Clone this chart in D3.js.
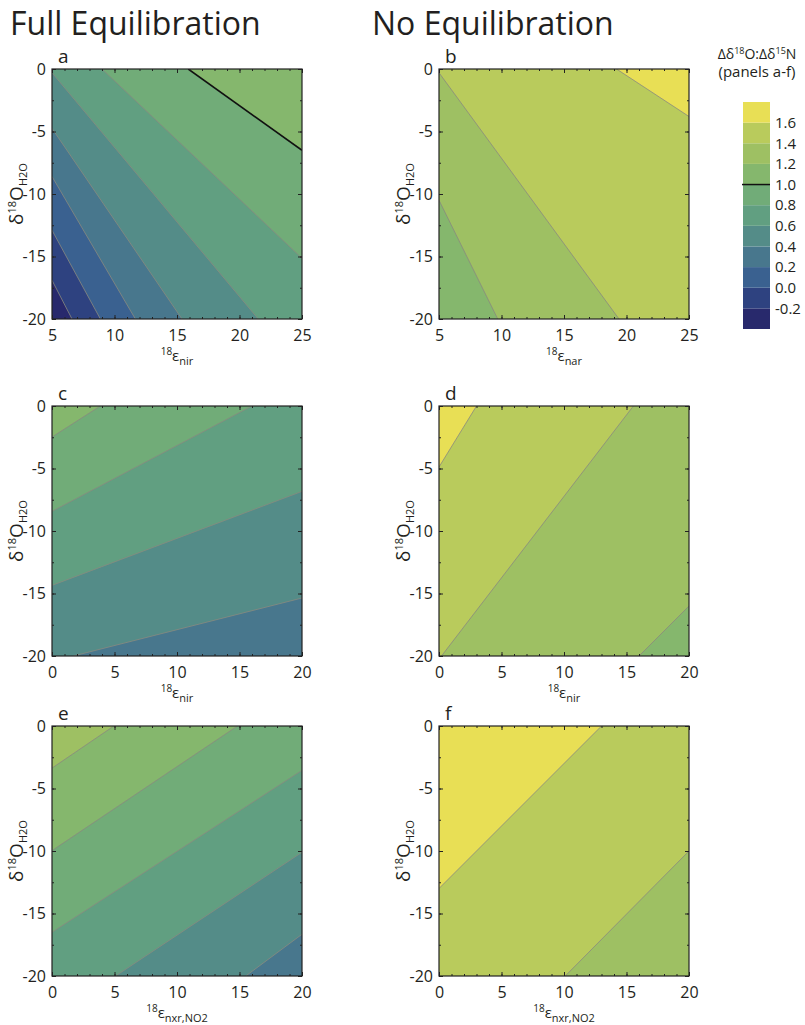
<!DOCTYPE html>
<html><head><meta charset="utf-8">
<script src="https://cdn.jsdelivr.net/npm/d3@7"></script>
<style>
body{margin:0;background:#fff}
text{font-family:"Open Sans",sans-serif;fill:#231f20}
</style>
</head><body>
<svg id="chart" width="805" height="1025"></svg>
<script>
// ---------------- data ----------------
const levels = [-0.2, 0.0, 0.2, 0.4, 0.6, 0.8, 1.0, 1.2, 1.4, 1.6];
const bandColors = ["#28296c", "#2e4280", "#3a6190", "#48778d", "#548c88", "#619f81", "#71ac78", "#85b76d", "#9ec063", "#b9cb5c", "#e8df55"];
const colorbarTicks = [-0.2, 0.0, 0.2, 0.4, 0.6, 0.8, 1.0, 1.2, 1.4, 1.6];
const columnTitles = ["Full Equilibration", "No Equilibration"];
const panelLetters = ["a", "b", "c", "d", "e", "f"];
const xDomains = [[5, 25], [5, 25], [0, 20], [0, 20], [0, 20], [0, 20]];
const yDomain = [-20, 0];
const xTickValues = [[5, 10, 15, 20, 25], [5, 10, 15, 20, 25], [0, 5, 10, 15, 20], [0, 5, 10, 15, 20], [0, 5, 10, 15, 20], [0, 5, 10, 15, 20]];
const yTickValues = [0, -5, -10, -15, -20];
const xLabelSubs = ["nir", "nar", "nir", "nir", "nxr,NO2", "nxr,NO2"];
// contour lines: [level, x1, y1, x2, y2] (data units)
const contoursA = [[1.0, 15.9, 0, 25, -6.5], [0.8, 9.0, 0, 25, -15.15], [0.6, 5, -0.3, 21.5, -20], [0.4, 5, -4.75, 15.4, -20], [0.2, 5, -8.6, 11.67, -20], [0.0, 5, -12.9, 8.87, -20], [-0.2, 5, -16.9, 6.6, -20]];
const contoursB = [[1.6, 19.2, 0, 25, -3.8], [1.4, 5, -0.3, 19.4, -20], [1.2, 5, -10.5, 9.7, -20]];
const contoursC = [[1.0, 0, -2.48, 3.87, 0], [0.8, 0, -8.43, 16, 0], [0.6, 0, -14.35, 20, -6.83], [0.4, 1.7, -20, 20, -15.36]];
const contoursD = [[1.6, 0, -4.88, 3.0, 0], [1.4, 0.2, -20, 15.55, 0], [1.2, 16, -20, 20, -16]];
const contoursE = [[1.2, 0, -3.37, 4.95, 0], [1.0, 0, -9.97, 14.84, 0], [0.8, 0, -16.5, 20, -3.55], [0.6, 5.08, -20, 20, -10.1], [0.4, 15.5, -20, 20, -16.66]];
const contoursF = [[1.6, 0, -13.0, 13.0, 0], [1.4, 10.1, -20, 20, -10.0]];
const panelContours = [contoursA, contoursB, contoursC, contoursD, contoursE, contoursF];
// corner of each panel where the ratio is highest
const peakCorners = [[25, 0], [25, 0], [0, 0], [0, 0], [0, 0], [0, 0]];
const blackContour = {panel: 0, level: 1.0};

// ---------------- layout ----------------
const svg = d3.select("#chart");
const W = 250, H = 250;
const origins = [[52, 69], [439, 69], [52, 406], [439, 406], [52, 726], [439, 726]];
const color = d3.scaleThreshold().domain(levels).range(bandColors);

// column titles
svg.selectAll("text.title").data(columnTitles).join("text")
  .attr("class", "title")
  .attr("x", (d, i) => i === 0 ? 10 : 372)
  .attr("y", 35)
  .attr("font-size", 32)
  .text(d => d);

panelContours.forEach((lines, p) => {
  const [ox, oy] = origins[p];
  const x = d3.scaleLinear().domain(xDomains[p]).range([0, W]);
  const y = d3.scaleLinear().domain(yDomain).range([H, 0]);
  const g = svg.append("g").attr("transform", `translate(${ox},${oy})`);
  const clipId = "clip" + p;
  g.append("clipPath").attr("id", clipId).append("rect").attr("width", W).attr("height", H);
  const fills = g.append("g").attr("clip-path", `url(#${clipId})`);

  const sorted = lines.slice().sort((a, b) => a[0] - b[0]);
  fills.append("rect").attr("width", W).attr("height", H)
    .attr("fill", color(sorted[0][0] - 0.1));

  const peak = [x(peakCorners[p][0]), y(peakCorners[p][1])];
  const halfPlane = l => {
    const p1 = [x(l[1]), y(l[2])], p2 = [x(l[3]), y(l[4])];
    let dx = p2[0] - p1[0], dy = p2[1] - p1[1];
    const len = Math.hypot(dx, dy); dx /= len; dy /= len;
    let nx = -dy, ny = dx;
    if ((peak[0] - p1[0]) * nx + (peak[1] - p1[1]) * ny < 0) { nx = -nx; ny = -ny; }
    const L = 2000;
    const a = [p1[0] - dx * L, p1[1] - dy * L], b = [p2[0] + dx * L, p2[1] + dy * L];
    return [a, b, [b[0] + nx * L, b[1] + ny * L], [a[0] + nx * L, a[1] + ny * L]];
  };
  fills.selectAll("path.band").data(sorted).join("path")
    .attr("class", "band")
    .attr("d", l => d3.line()(halfPlane(l)) + "Z")
    .attr("fill", l => color(l[0]));
  const isBlack = l => p === blackContour.panel && l[0] === blackContour.level;
  fills.selectAll("line.ct").data(sorted).join("line")
    .attr("class", "ct")
    .attr("x1", l => x(l[1])).attr("y1", l => y(l[2]))
    .attr("x2", l => x(l[3])).attr("y2", l => y(l[4]))
    .attr("stroke", l => isBlack(l) ? "#111" : "#8a8a80")
    .attr("stroke-opacity", l => isBlack(l) ? 1 : 0.8)
    .attr("stroke-width", l => isBlack(l) ? 1.6 : 1);

  // axes: minor ticks
  const xMinor = d3.range(xDomains[p][0], xDomains[p][1] + 0.001, 1);
  const yMinor = d3.range(-20, 0.001, 2.5);
  const styleAxis = sel => { sel.select(".domain").remove(); sel.selectAll("line").attr("stroke", "#222"); sel.attr("font-family", null).attr("font-size", 16); sel.selectAll("text").attr("fill", "#231f20"); };
  g.append("g").attr("transform", `translate(0,${H})`).call(d3.axisBottom(x).tickValues(xMinor).tickSizeInner(-2).tickSizeOuter(0).tickFormat("")).call(styleAxis);
  g.append("g").call(d3.axisTop(x).tickValues(xMinor).tickSizeInner(-2).tickSizeOuter(0).tickFormat("")).call(styleAxis);
  g.append("g").call(d3.axisLeft(y).tickValues(yMinor).tickSizeInner(-2).tickSizeOuter(0).tickFormat("")).call(styleAxis);
  g.append("g").attr("transform", `translate(${W},0)`).call(d3.axisRight(y).tickValues(yMinor).tickSizeInner(-2).tickSizeOuter(0).tickFormat("")).call(styleAxis);
  // major ticks + labels
  g.append("g").attr("transform", `translate(0,${H})`).call(d3.axisBottom(x).tickValues(xTickValues[p]).tickSizeInner(-4).tickSizeOuter(0).tickPadding(11).tickFormat(d => String(d))).call(styleAxis);
  g.append("g").call(d3.axisLeft(y).tickValues(yTickValues).tickSizeInner(-4).tickSizeOuter(0).tickPadding(6).tickFormat(d => String(d))).call(styleAxis);
  g.append("g").call(d3.axisTop(x).tickValues(xTickValues[p]).tickSizeInner(-4).tickSizeOuter(0).tickFormat("")).call(styleAxis);
  g.append("g").attr("transform", `translate(${W},0)`).call(d3.axisRight(y).tickValues(yTickValues).tickSizeInner(-4).tickSizeOuter(0).tickFormat("")).call(styleAxis);

  // frame
  g.append("rect").attr("width", W).attr("height", H).attr("fill", "none").attr("stroke", "#222").attr("stroke-width", 1.2);

  // panel letter
  g.append("text").attr("x", 6).attr("y", -6).attr("font-size", 19).text(panelLetters[p]);

  // y label
  const yl = g.append("text").attr("transform", `translate(-29,${H / 2}) rotate(-90)`).attr("text-anchor", "middle").attr("font-size", 19);
  yl.append("tspan").text("δ");
  yl.append("tspan").attr("font-size", 11).attr("dy", -7).text("18");
  yl.append("tspan").attr("dy", 7).text("O");
  yl.append("tspan").attr("font-size", 11).attr("dy", 4).text("H2O");

  // x label
  const xl = g.append("text").attr("x", W / 2).attr("y", H + 42).attr("text-anchor", "middle").attr("font-size", 15);
  xl.append("tspan").attr("font-size", 10).attr("dy", -6).text("18");
  xl.append("tspan").attr("dy", 6).text("ε");
  xl.append("tspan").attr("font-size", 11).attr("dy", 4).text(xLabelSubs[p]);
});

// ---------------- colorbar ----------------
const cbX = 743, cbW = 27;
const cbY = d3.scaleLinear().domain([-0.4, 1.8]).range([329, 102]);
const bandEdges = [-0.4, ...levels, 1.8];
const cb = svg.append("g");
cb.selectAll("rect").data(bandColors).join("rect")
  .attr("x", cbX).attr("width", cbW)
  .attr("y", (d, i) => cbY(bandEdges[i + 1]))
  .attr("height", (d, i) => cbY(bandEdges[i]) - cbY(bandEdges[i + 1]))
  .attr("fill", d => d);
cb.append("line").attr("x1", cbX - 1).attr("x2", cbX + cbW).attr("y1", cbY(1.0)).attr("y2", cbY(1.0)).attr("stroke", "#111").attr("stroke-width", 1.5);
cb.append("g").attr("transform", `translate(${cbX + cbW},0)`)
  .call(d3.axisRight(cbY).tickValues(colorbarTicks).tickSize(0).tickPadding(5).tickFormat(d => d.toFixed(1)))
  .call(s => { s.select(".domain").remove(); s.attr("font-family", null).attr("font-size", 15); s.selectAll("text").attr("fill", "#231f20"); });

const ct = svg.append("text").attr("x", 757).attr("y", 59).attr("text-anchor", "middle").attr("font-size", 14);
ct.append("tspan").text("Δδ");
ct.append("tspan").attr("font-size", 9).attr("dy", -5).text("18");
ct.append("tspan").attr("dy", 5).text("O:Δδ");
ct.append("tspan").attr("font-size", 9).attr("dy", -5).text("15");
ct.append("tspan").attr("dy", 5).text("N");
svg.append("text").attr("x", 757).attr("y", 77).attr("text-anchor", "middle").attr("font-size", 15).text("(panels a-f)");
</script>
</body></html>
